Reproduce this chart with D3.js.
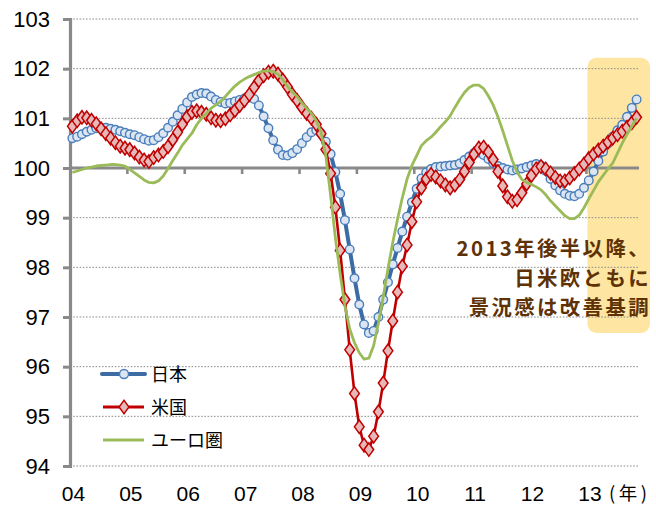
<!DOCTYPE html>
<html>
<head>
<meta charset="utf-8">
<script src="https://cdn.jsdelivr.net/npm/d3@7/dist/d3.min.js"></script>
<style>
  html, body { margin: 0; padding: 0; background: #fff; }
  svg { display: block; }
</style>
</head>
<body>
<svg id="chart" width="656" height="506"></svg>
<script>
// ---- data ----
const yearLabels = ["04","05","06","07","08","09","10","11","12","13"];
const yTicks = [94,95,96,97,98,99,100,101,102,103];
const seriesNames = ["日本","米国","ユーロ圏"];
const annotationLines = ["2013年後半以降、","日米欧ともに","景況感は改善基調"];

const japan = [
100.60,100.63,100.68,100.73,100.77,100.80,100.81,100.81,100.79,100.77,100.74,100.71,
100.68,100.66,100.62,100.58,100.55,100.56,100.62,100.70,100.81,100.93,101.06,101.19,
101.32,101.43,101.48,101.51,101.50,101.44,101.37,101.33,101.30,101.31,101.34,101.37,
101.40,101.42,101.39,101.26,101.04,100.80,100.56,100.37,100.26,100.25,100.30,100.38,
100.50,100.62,100.72,100.76,100.70,100.53,100.28,99.92,99.48,98.95,98.36,97.78,
97.25,96.85,96.68,96.72,97.00,97.35,97.70,98.06,98.39,98.72,99.02,99.31,
99.58,99.79,99.91,99.98,100.02,100.03,100.04,100.05,100.06,100.09,100.16,100.23,
100.30,100.31,100.26,100.18,100.10,100.04,100.00,99.97,99.95,99.97,99.99,100.02,
100.05,100.08,100.05,99.94,99.78,99.65,99.55,99.48,99.44,99.43,99.48,99.60,
99.75,99.93,100.14,100.33,100.49,100.63,100.76,100.87,101.03,101.21,101.38
];
const us = [
100.84,100.95,101.02,101.01,100.96,100.89,100.79,100.69,100.60,100.51,100.44,100.40,
100.37,100.30,100.22,100.16,100.13,100.21,100.26,100.33,100.43,100.57,100.72,100.88,
101.03,101.12,101.15,101.12,101.08,101.01,100.96,100.95,100.99,101.07,101.16,101.26,
101.36,101.48,101.62,101.76,101.86,101.93,101.95,101.89,101.77,101.63,101.48,101.36,
101.22,101.10,101.00,100.88,100.69,100.37,99.89,99.21,98.34,97.35,96.34,95.46,
94.79,94.42,94.33,94.60,95.09,95.67,96.32,96.92,97.50,98.02,98.45,98.92,
99.32,99.60,99.78,99.87,99.82,99.74,99.66,99.60,99.66,99.77,99.93,100.11,
100.28,100.40,100.42,100.32,100.17,99.93,99.64,99.42,99.33,99.36,99.50,99.68,
99.85,99.98,100.03,99.98,99.90,99.81,99.74,99.74,99.80,99.89,99.98,100.08,
100.19,100.28,100.36,100.44,100.52,100.60,100.67,100.74,100.82,100.91,101.02
];
const euro = [
99.91,99.94,99.97,100.00,100.02,100.04,100.05,100.06,100.07,100.07,100.06,100.04,
99.97,99.90,99.83,99.76,99.71,99.70,99.74,99.84,99.99,100.15,100.30,100.46,
100.58,100.70,100.87,101.00,101.10,101.20,101.27,101.34,101.44,101.55,101.65,101.73,
101.79,101.84,101.88,101.92,101.95,101.96,101.94,101.89,101.78,101.64,101.53,101.44,
101.31,101.20,101.10,100.95,100.72,100.25,99.45,98.60,97.87,97.22,96.76,96.48,
96.28,96.15,96.17,96.42,96.88,97.40,97.97,98.50,98.97,99.40,99.78,100.05,
100.25,100.45,100.55,100.62,100.72,100.83,100.93,101.05,101.22,101.38,101.52,101.62,
101.67,101.67,101.60,101.45,101.27,101.03,100.75,100.45,100.15,99.92,99.77,99.71,
99.67,99.62,99.56,99.46,99.34,99.24,99.14,99.04,98.98,98.98,99.05,99.20,
99.38,99.55,99.72,99.85,99.98,100.10,100.30,100.50,100.68,100.84,101.00
];

// months (categories): Jan 2004 .. Nov 2013
const months = [];
for (let i = 0; i < japan.length; i++) {
  months.push((2004 + Math.floor(i / 12)) + "-" + String(i % 12 + 1).padStart(2, "0"));
}

// ---- chart ----
const svg = d3.select("#chart");
const L = 70, R = 639, T = 19, B = 466;
const latin = "'Liberation Sans', Arial, sans-serif";
const cjk = "'Noto Sans CJK JP', 'Noto Sans', sans-serif";

const x = d3.scaleBand().domain(months).range([L, R]).padding(0);
const cx = m => x(m) + x.bandwidth() / 2;
const y = d3.scaleLinear().domain([94, 103]).range([B, T]);

const colJ = "#3C6CA3", colJfill = "#DCE6F2", colJstroke = "#4A7EBB";
const colU = "#C00000", colUfill = "#E6B9B8";
const colE = "#9BBB59";
const axisCol = "#898989";

// highlight box
const boxStart = months[108];
svg.append("rect")
  .attr("x", x(boxStart) + 1).attr("y", y(102.22))
  .attr("width", 650 - (x(boxStart) + 1)).attr("height", y(96.68) - y(102.22))
  .attr("rx", 9).attr("ry", 9)
  .attr("fill", "#FEE6A2");

// gridlines
svg.append("g").selectAll("line")
  .data(yTicks.filter(d => d !== 100))
  .join("line")
  .attr("x1", L).attr("x2", R - 1)
  .attr("y1", d => y(d)).attr("y2", d => y(d))
  .attr("stroke", "#8c8c8c").attr("stroke-width", 1)
  .attr("stroke-dasharray", "1.6,1.6");

// y axis
const yAxis = d3.axisLeft(y).tickValues(yTicks).tickSize(7).tickPadding(13)
  .tickFormat(d3.format("d"));
const gy = svg.append("g").attr("transform", `translate(${L},0)`).call(yAxis);
gy.select(".domain").attr("stroke", axisCol).attr("stroke-width", 3.2);
gy.selectAll(".tick line").attr("stroke", axisCol).attr("stroke-width", 3);
gy.selectAll(".tick text")
  .attr("font-family", latin).attr("font-size", 22).attr("fill", "#000");

// x axis line at 100 with year ticks
const yearStarts = months.filter((m, i) => i % 12 === 0);
const xAxis = d3.axisBottom(x).tickValues(yearStarts.slice(1)).tickSize(6).tickFormat("");
const gx = svg.append("g").attr("transform", `translate(0,${y(100)})`).call(xAxis);
gx.select(".domain").attr("stroke", axisCol).attr("stroke-width", 3.2)
  .attr("d", `M${L},0H${R}`);
gx.selectAll(".tick").attr("transform", d => `translate(${x(d)},0)`);
gx.selectAll(".tick line").attr("stroke", axisCol).attr("stroke-width", 2.6);

// year labels
svg.append("g").selectAll("text")
  .data(yearLabels)
  .join("text")
  .attr("x", (d, i) => x(yearStarts[i]) + 3.5)
  .attr("y", 501)
  .attr("text-anchor", "middle")
  .attr("font-family", latin).attr("font-size", 21).attr("fill", "#000")
  .text(d => d);
svg.append("text")
  .attr("x", 609).attr("y", 500)
  .attr("font-family", cjk).attr("font-size", 18.5).attr("letter-spacing", 3.5)
  .attr("fill", "#000")
  .text("(年)");

// series
const lineGen = data => d3.line().x((d, i) => cx(months[i])).y(d => y(d))(data);

// Japan
svg.append("path").attr("d", lineGen(japan))
  .attr("fill", "none").attr("stroke", colJ).attr("stroke-width", 4)
  .attr("stroke-linejoin", "round");
svg.append("g").selectAll("circle").data(japan).join("circle")
  .attr("cx", (d, i) => cx(months[i])).attr("cy", d => y(d)).attr("r", 4.3)
  .attr("fill", colJfill).attr("stroke", colJstroke).attr("stroke-width", 1.4);

// US
const diamond = d3.symbol().type(d3.symbolDiamond).size(52);
svg.append("path").attr("d", lineGen(us))
  .attr("fill", "none").attr("stroke", colU).attr("stroke-width", 2.6)
  .attr("stroke-linejoin", "round");
svg.append("g").selectAll("path").data(us).join("path")
  .attr("d", diamond)
  .attr("transform", (d, i) => `translate(${cx(months[i])},${y(d)}) scale(1.25,1)`)
  .attr("fill", colUfill).attr("stroke", colU).attr("stroke-width", 1.3);

// Euro
svg.append("path").attr("d", lineGen(euro))
  .attr("fill", "none").attr("stroke", colE).attr("stroke-width", 2.8)
  .attr("stroke-linejoin", "round");

// legend
const legY = [374, 407, 440];
const lg = svg.append("g");
lg.append("line").attr("x1", 102).attr("x2", 145).attr("y1", legY[0]).attr("y2", legY[0])
  .attr("stroke", colJ).attr("stroke-width", 4).attr("stroke-linecap", "round");
lg.append("circle").attr("cx", 124).attr("cy", legY[0]).attr("r", 4.5)
  .attr("fill", colJfill).attr("stroke", colJstroke).attr("stroke-width", 1.4);
lg.append("line").attr("x1", 103).attr("x2", 144).attr("y1", legY[1]).attr("y2", legY[1])
  .attr("stroke", colU).attr("stroke-width", 2.8);
lg.append("path").attr("d", diamond)
  .attr("transform", `translate(124,${legY[1]}) scale(1.25,1)`)
  .attr("fill", colUfill).attr("stroke", colU).attr("stroke-width", 1.3);
lg.append("line").attr("x1", 103).attr("x2", 144).attr("y1", legY[2]).attr("y2", legY[2])
  .attr("stroke", colE).attr("stroke-width", 3);
lg.selectAll("text").data(seriesNames).join("text")
  .attr("x", 151).attr("y", (d, i) => legY[i] + 6.5)
  .attr("font-family", cjk).attr("font-size", 18).attr("fill", "#000")
  .text(d => d);

// annotation
svg.append("g").selectAll("text").data(annotationLines).join("text")
  .attr("x", 651).attr("y", (d, i) => 256 + i * 29.6)
  .attr("text-anchor", "end")
  .attr("font-family", cjk).attr("font-weight", "bold").attr("font-size", 20.4)
  .attr("letter-spacing", 2.4)
  .attr("fill", "#5E3206")
  .text(d => d);
</script>
</body>
</html>
